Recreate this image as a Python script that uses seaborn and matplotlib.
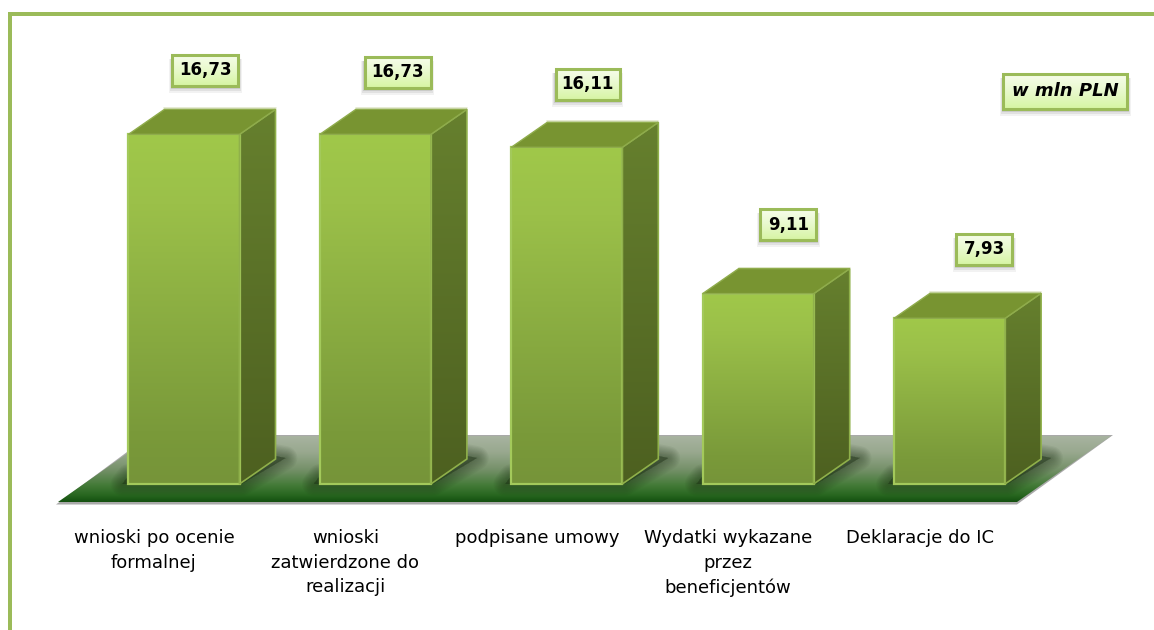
import numpy as np
import matplotlib
matplotlib.use("Agg")
import matplotlib.pyplot as plt
from matplotlib.colors import to_rgb
from matplotlib.patches import Polygon, Rectangle
import seaborn as sns

categories = ["wnioski po ocenie\nformalnej", "wnioski\nzatwierdzone do\nrealizacji",
              "podpisane umowy", "Wydatki wykazane\nprzez\nbeneficjentów", "Deklaracje do IC"]
values = [16.73, 16.73, 16.11, 9.11, 7.93]
value_labels = ["16,73", "16,73", "16,11", "9,11", "7,93"]
unit_label = "w mln PLN"

W, H = 1154, 630
# pixel scale of the chart: bars are 191.4 px apart, 20.9 px per million
X0, XS, Y0, YS = 184, 191.4, 484, 20.9
DEPTH_X, DEPTH_Y = 36 / XS, 25 / YS
GREEN = "#9BBB59"

sns.set_style("white")
plt.rcParams["font.family"] = ["DejaVu Sans"]

fig = plt.figure(figsize=(W / 100, H / 100), dpi=100)
ax = fig.add_axes([0, 0, 1, 1])
sns.barplot(x=categories, y=values, width=0.58, color=GREEN, ax=ax)
bars = list(ax.patches)
ax.set_xlim(-X0 / XS, (W - X0) / XS)
ax.set_ylim((Y0 - H) / YS, Y0 / YS)
ax.axis("off")


def px(x, y):
    return ((x - X0) / XS, (Y0 - y) / YS)


def gradient(clip, x0, x1, y0, y1, colors, stops=None, z=2):
    # vertical gradient between data coords, cut to the shape of clip
    stops = np.linspace(0, 1, len(colors)) if stops is None else stops
    rgb = np.array([to_rgb(c) for c in colors])
    t = np.linspace(0, 1, 256)
    img = np.stack([np.interp(t, stops, rgb[:, i]) for i in range(3)], axis=1)[:, None, :]
    im = ax.imshow(img, extent=(x0, x1, y0, y1), aspect="auto", zorder=z, interpolation="bilinear")
    im.set_clip_path(clip)
    return im


# floor
corners = [px(58, 502), px(1017, 502), px(1111, 436), px(152, 436)]
ax.add_patch(Polygon([px(56, 504.5), px(1017, 504.5), px(1113, 435), px(150, 435)],
                     fc="#A9A9A9", ec="none", zorder=0.2))
floor = Polygon(corners, fc="none", ec="none", zorder=0.3)
ax.add_patch(floor)
fx0, fy1 = px(58, 436)
fx1, fy0 = px(1111, 502)
gradient(floor, fx0, fx1, fy0, fy1,
         ["#A8B3A0", "#98A88E", "#76916A", "#437A37", "#27661F", "#145010"],
         [0, 0.25, 0.5, 0.75, 0.9, 1], z=0.4)

# soft shadows on the floor
for p in bars:
    x, w = p.get_x(), p.get_width()
    xr = x + w
    pts = [(x, (Y0 - 476) / YS), (x - 6 / XS, 0), (xr + 2 / XS, 0),
           (xr + DEPTH_X + 10 / XS, (Y0 - 458) / YS), (xr + DEPTH_X, (Y0 - 456) / YS)]
    for lw in np.linspace(17, 1, 10):
        s = Polygon(pts, fc="#1c2e14", ec="#1c2e14", lw=lw, alpha=0.05,
                    joinstyle="round", zorder=0.5)
        ax.add_patch(s)
        s.set_clip_path(floor)

# 3d boxes, sides and tops hang off the seaborn bars
for p in bars:
    x, w, h = p.get_x(), p.get_width(), p.get_height()
    xr = x + w
    side = Polygon([(xr, 0), (xr + DEPTH_X, DEPTH_Y), (xr + DEPTH_X, h + DEPTH_Y), (xr, h)],
                   fc="none", ec="#8FB04A", lw=1.2, zorder=3)
    top = Polygon([(x, h), (xr, h), (xr + DEPTH_X, h + DEPTH_Y), (x + DEPTH_X, h + DEPTH_Y)],
                  fc="#789431", ec="#8FAC4C", lw=1, zorder=3)
    ax.add_patch(side)
    ax.add_patch(top)
    gradient(side, xr, xr + DEPTH_X, 0, h + DEPTH_Y, ["#66802E", "#4D6020"])
    gradient(p, x, xr, 0, h, ["#A0C84A", "#9BC049", "#7A9A3A", "#769439"], [0, 0.2, 0.85, 1])
    p.set_facecolor("none")
    p.set_edgecolor("#A3C95B")
    p.set_linewidth(1.6)
    p.set_zorder(3)
    ax.plot([x + DEPTH_X, xr + DEPTH_X], [h + DEPTH_Y + 1 / YS] * 2, color="#E2E8CC", lw=1.2, zorder=2.5)


def label_box(left, top, right, bottom, text, **kw):
    # box with a drop shadow and light green fill, coords in pixels
    for g, a in [(7, 0.07), (5, 0.1), (3, 0.14), (1, 0.2)]:
        x0, y1 = px(left - g / 2, top + 4)
        x1, y0 = px(right + g / 2, bottom + g)
        ax.add_patch(Rectangle((x0, y0), x1 - x0, y1 - y0, fc="#505050", ec="none", alpha=a, zorder=4))
    x0, y1 = px(left, top)
    x1, y0 = px(right, bottom)
    box = Rectangle((x0, y0), x1 - x0, y1 - y0, fc="none", ec=GREEN, lw=2.2, zorder=6)
    ax.add_patch(box)
    gradient(box, x0, x1, y0, y1, ["#F7FDEB", "#E8F9CC", "#D6F5A2"], z=5)
    cx, cy = px((left + right) / 2, (top + bottom) / 2)
    ax.text(cx, cy, text, ha="center", va="center", color="black", zorder=7, **kw)


# box position relative to the front top-centre of each bar, pixels
box_dx = [21.5, 22.5, 21, 30, 34.5]
box_dy = [-64, -62, -63, -69, -69]
box_w = [66, 66, 64, 56, 56]
for i, p in enumerate(bars):
    cx = X0 + XS * i + box_dx[i]
    cy = Y0 - YS * values[i] + box_dy[i]
    label_box(cx - box_w[i] / 2, cy - 15.5, cx + box_w[i] / 2, cy + 15.5, value_labels[i],
              fontsize=12, fontweight="bold")

label_box(1003, 74, 1127, 109, unit_label, fontsize=13, fontweight="bold", fontstyle="italic")

# category labels sit about 30 px left of their bars
for i, lab in enumerate(categories):
    ax.annotate(lab, xy=(i, 0), xytext=(-30, -45), textcoords="offset pixels", ha="center", va="top",
                fontsize=13, color="black", linespacing=1.47, zorder=7)

# green frame, open on the right and at the bottom
for rect in [(8, 12, W - 8, 4), (8, 12, 4, H - 12)]:
    x0, y1 = px(rect[0], rect[1])
    x1, y0 = px(rect[0] + rect[2], rect[1] + rect[3])
    ax.add_patch(Rectangle((x0, y0), x1 - x0, y1 - y0, fc=GREEN, ec="none", zorder=8))

ax.set_xlim(-X0 / XS, (W - X0) / XS)
ax.set_ylim((Y0 - H) / YS, Y0 / YS)
fig.savefig("out.png", dpi=100)
